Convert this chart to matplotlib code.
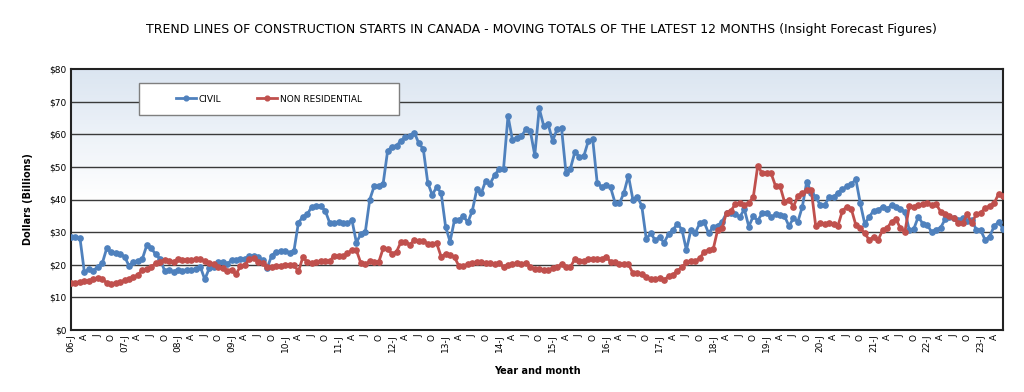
import numpy as np
import matplotlib
matplotlib.use("Agg")
import matplotlib.pyplot as plt
from matplotlib.patches import Rectangle
from matplotlib.colors import LinearSegmentedColormap

plt.rcParams.update(
    {
        "font.family": ["DejaVu Sans"],
        "font.size": 7,
        "axes.linewidth": 1.5,
    }
)

# moving 12-month totals, billions of dollars, monthly from Jan 2006
civil = [
    28.5, 28.4, 28.3, 17.7, 18.6, 18.2, 19.4, 20.4, 25.0, 23.8, 23.5, 23.2,  # 2006
    22.5, 19.7, 20.8, 21.1, 21.8, 26.0, 25.0, 23.2, 21.8, 18.1, 18.4, 17.9,  # 2007
    18.4, 18.2, 18.4, 18.4, 18.7, 19.4, 15.5, 18.9, 19.2, 20.9, 20.7, 20.2,  # 2008
    21.4, 21.4, 21.8, 21.8, 22.7, 22.7, 22.3, 21.4, 19.0, 22.8, 24.0, 24.1,  # 2009
    24.3, 23.7, 24.3, 32.9, 34.7, 35.5, 37.8, 38.0, 38.0, 36.6, 32.9, 32.7,  # 2010
    33.2, 32.7, 32.7, 33.7, 26.8, 29.4, 30.1, 40.0, 44.1, 44.1, 44.9, 54.9,  # 2011
    56.2, 56.5, 58.0, 59.1, 59.6, 60.5, 57.2, 55.5, 45.2, 41.4, 43.8, 42.0,  # 2012
    31.7, 27.1, 33.7, 33.8, 34.9, 33.0, 36.6, 43.1, 41.9, 45.8, 44.9, 47.5,  # 2013
    49.3, 49.5, 65.6, 58.2, 59.0, 59.4, 61.5, 61.0, 53.6, 67.9, 62.6, 63.1,  # 2014
    58.0, 61.5, 61.9, 48.2, 49.5, 54.6, 53.1, 53.3, 57.9, 58.4, 45.1, 43.9,  # 2015
    44.4, 43.7, 39.0, 38.8, 42.1, 47.3, 40.0, 40.9, 38.0, 27.9, 29.6, 27.6,  # 2016
    28.4, 26.8, 29.4, 30.8, 32.5, 30.8, 24.5, 30.6, 29.8, 32.7, 33.0, 29.6,  # 2017
    31.7, 32.0, 33.2, 35.8, 35.8, 35.5, 34.7, 37.0, 31.7, 34.9, 33.5, 35.8,  # 2018
    36.0, 34.5, 35.5, 35.2, 34.9, 31.9, 34.2, 33.2, 37.8, 45.5, 42.1, 40.9,  # 2019
    38.3, 38.3, 40.7, 40.7, 42.1, 43.1, 44.1, 44.7, 46.2, 38.8, 32.5, 34.7,  # 2020
    36.6, 36.8, 37.8, 37.0, 38.3, 37.6, 37.0, 36.3, 30.6, 31.0, 34.7, 32.6,  # 2021
    32.3, 30.0, 30.8, 31.3, 33.9, 34.7, 34.4, 33.7, 34.4, 33.4, 33.7, 30.8,  # 2022
    30.6, 27.6, 28.6, 31.8, 33.1, 31.0,                                      # 2023
]
non_residential = [
    14.3, 14.5, 14.8, 14.9, 15.1, 15.5, 15.8, 15.6, 14.5, 14.1, 14.5, 14.6,  # 2006
    15.3, 15.7, 16.1, 16.9, 18.4, 18.6, 19.4, 20.4, 20.7, 21.5, 21.2, 20.9,  # 2007
    21.8, 21.5, 21.5, 21.5, 21.8, 21.8, 21.1, 20.4, 20.1, 19.4, 18.9, 18.2,  # 2008
    18.5, 17.2, 19.5, 20.0, 21.7, 22.0, 20.8, 20.5, 19.3, 19.3, 19.5, 19.5,  # 2009
    20.0, 20.0, 19.9, 18.0, 22.3, 20.8, 20.5, 20.7, 21.0, 21.0, 21.0, 22.8,  # 2010
    22.7, 22.6, 23.5, 24.5, 24.4, 20.5, 20.2, 21.0, 20.8, 20.8, 25.0, 24.9,  # 2011
    23.3, 24.0, 27.0, 26.9, 26.2, 27.5, 27.3, 27.3, 26.5, 26.5, 26.6, 22.5,  # 2012
    23.3, 23.0, 22.3, 19.6, 19.6, 20.2, 20.6, 20.9, 20.9, 20.6, 20.4, 20.2,  # 2013
    20.4, 19.4, 19.9, 20.2, 20.4, 20.2, 20.6, 19.4, 18.6, 18.6, 18.5, 18.4,  # 2014
    18.9, 19.2, 20.2, 19.2, 19.4, 21.7, 21.2, 21.0, 21.7, 21.8, 21.7, 21.7,  # 2015
    22.5, 20.9, 20.7, 20.2, 20.2, 20.2, 17.4, 17.4, 17.1, 16.1, 15.6, 15.5,  # 2016
    15.8, 15.3, 16.5, 16.9, 18.2, 19.2, 20.7, 21.2, 21.1, 22.0, 24.0, 24.5,  # 2017
    24.7, 30.6, 31.2, 36.0, 36.6, 38.6, 39.0, 38.3, 39.0, 40.7, 50.3, 48.0,  # 2018
    48.2, 48.0, 44.1, 44.1, 39.3, 40.0, 37.8, 41.1, 41.9, 42.9, 42.9, 31.9,  # 2019
    32.9, 32.5, 32.7, 32.4, 32.0, 36.6, 37.8, 37.0, 32.2, 31.2, 29.6, 27.6,  # 2020
    28.6, 27.6, 30.6, 31.2, 33.2, 33.9, 31.2, 30.1, 38.0, 37.8, 38.3, 38.6,  # 2021
    39.0, 38.2, 38.6, 36.3, 35.5, 34.9, 34.2, 32.7, 32.9, 35.5, 32.7, 35.5,  # 2022
    36.0, 37.3, 38.0, 38.8, 41.7, 41.1,                                      # 2023
]
first_year = 2006
quarter_letters = ["J", "A", "J", "O"]
y_ticks = [0, 10, 20, 30, 40, 50, 60, 70, 80]

n = len(civil)
x = np.arange(n)

# tick labels every 3 months: "06-J", "A", "J", "O", "07-J", ...
tick_pos = np.arange(0, n, 3)
tick_labels = []
for p in tick_pos:
    q = (p % 12) // 3
    if q == 0:
        tick_labels.append(f"{(first_year + p // 12) % 100:02d}-J")
    else:
        tick_labels.append(quarter_letters[q])

fig = plt.figure(figsize=(10.24, 3.92), dpi=100)
ax = fig.add_axes([71 / 1024, 1 - 330 / 392, 932 / 1024, 261 / 392])

# gradient background (light blue at top fading to white)
cmap = LinearSegmentedColormap.from_list("bg", ["#ffffff", "#ffffff", "#dbe5f1"])
grad = np.linspace(0, 1, 256).reshape(-1, 1)
ax.imshow(grad, cmap=cmap, aspect="auto", extent=[0, 1, 0, 1],
          transform=ax.transAxes, origin="lower", zorder=0)

for yv in y_ticks[1:-1]:
    ax.axhline(yv, color="#3a3a3a", lw=1.0, zorder=1)

ax.plot(x, civil, "-o", color="#4f81bd", lw=2, ms=3.8, label="CIVIL", zorder=3)
ax.plot(x, non_residential, "-o", color="#c0504d", lw=2, ms=3.8,
        label="NON RESIDENTIAL", zorder=3)

ax.set_xlim(0, n - 1)
ax.set_ylim(0, 80)
ax.set_yticks(y_ticks)
ax.set_yticklabels([f"${v}" for v in y_ticks])
ax.set_xticks(tick_pos)
ax.set_xticklabels(tick_labels, rotation=90)
ax.tick_params(axis="both", length=0, pad=3, labelsize=6.5)
for s in ax.spines.values():
    s.set_color("#222222")

ax.set_ylabel("Dollars (Billions)", fontsize=7, fontweight="bold", labelpad=12)
ax.set_xlabel("Year and month", fontsize=7, fontweight="bold", labelpad=10)

# legend box
box = Rectangle((68 / 932, (330 - 115) / 261), 260 / 932, 32 / 261,
                transform=ax.transAxes, facecolor="white", edgecolor="#7f7f7f",
                lw=1.0, zorder=4)
ax.add_patch(box)
ax.legend(loc="center", bbox_to_anchor=(198 / 932, (330 - 99) / 261),
          ncol=2, frameon=False, fontsize=6.5, handlelength=2.2,
          columnspacing=4.0, handletextpad=0.3, markerscale=0.9)
ax.get_legend().set_zorder(5)

fig.text(541 / 1024, 1 - 30 / 392,
         "TREND LINES OF CONSTRUCTION STARTS IN CANADA - MOVING TOTALS OF THE LATEST 12 MONTHS (Insight Forecast Figures)",
         ha="center", va="center", fontsize=9)

fig.savefig("out.png", dpi=100)
